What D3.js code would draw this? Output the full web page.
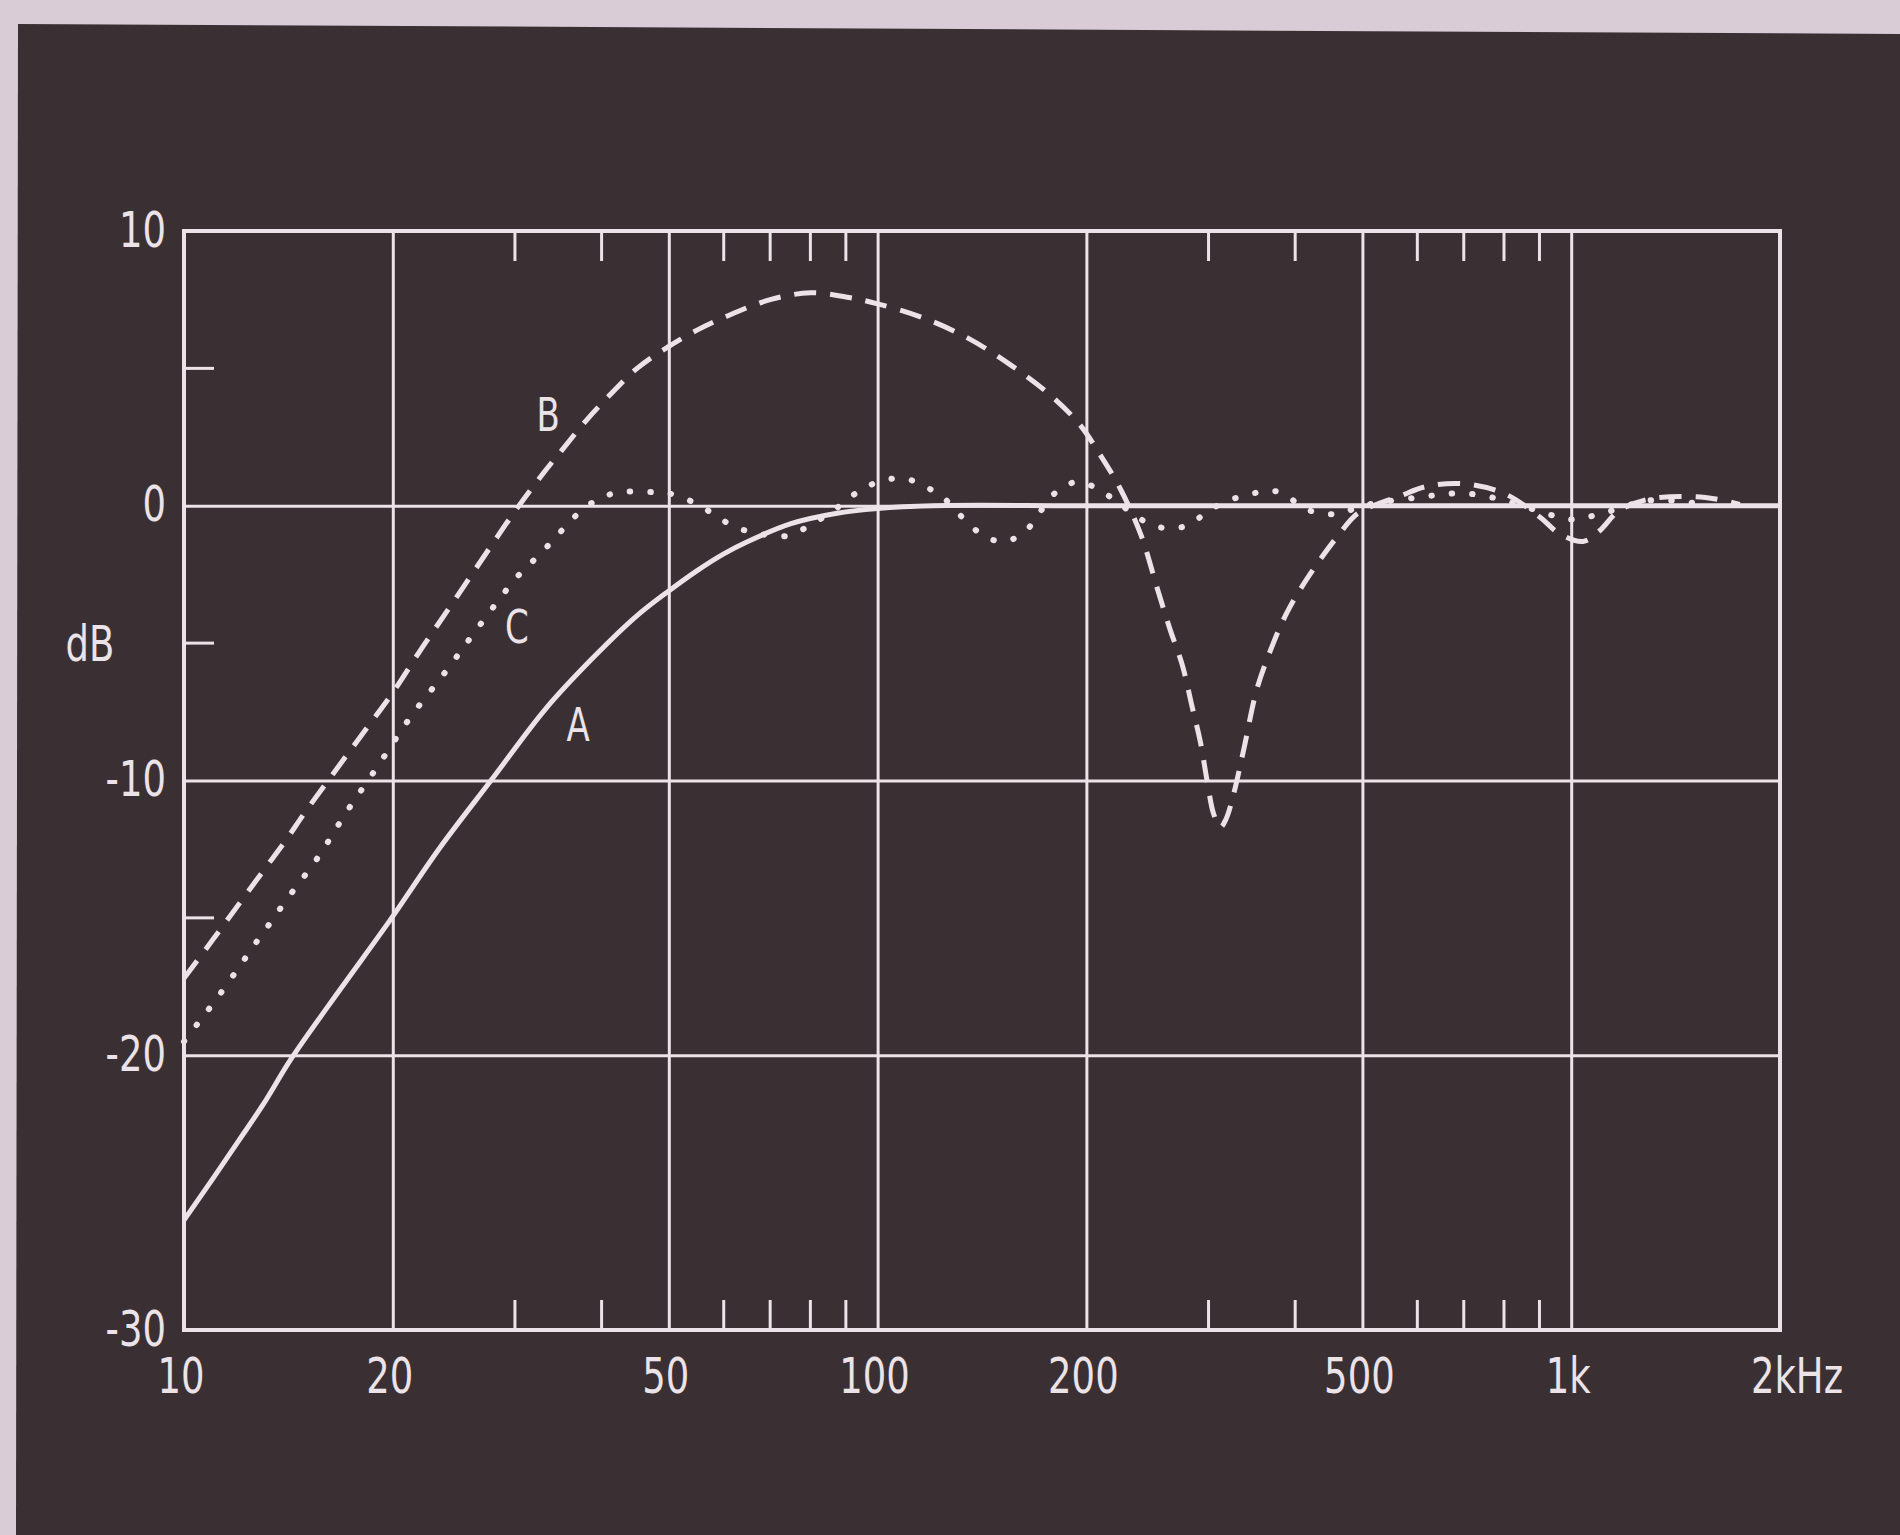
<!DOCTYPE html>
<html>
<head>
<meta charset="utf-8">
<script src="https://cdn.jsdelivr.net/npm/d3@7"></script>
<style>
  html, body { margin: 0; padding: 0; background: #d8ccd5; }
  svg { display: block; }
</style>
</head>
<body>
<svg id="chart" width="1900" height="1535"></svg>
<script>
// ---------- data ----------
const xMajorTicks = [10, 20, 50, 100, 200, 500, 1000, 2000];
const xTickLabels = ["10", "20", "50", "100", "200", "500", "1k", "2kHz"];
const xMinorTicks = [30, 40, 60, 70, 80, 90, 300, 400, 600, 700, 800, 900];
const yMajorTicks = [10, 0, -10, -20, -30];
const yTickLabels = ["10", "0", "-10", "-20", "-30"];
const yMinorTicks = [5, -5, -15];

// Curve A (solid)
const freqA = [10, 11, 12, 13, 14.3, 16.8, 19.8, 23.3, 27.9, 33.2, 39, 45, 50, 55, 60, 65, 75, 87, 100, 120, 200, 500, 1000, 2000];
const dbA   = [-26.0, -24.5, -23.1, -21.8, -20.1, -17.6, -15.1, -12.5, -9.9, -7.4, -5.5, -4.0, -3.1, -2.35, -1.75, -1.3, -0.65, -0.28, -0.1, 0, 0, 0, 0, 0];

// Curve B (dashed)
const freqB = [10, 11, 12, 13, 14, 15, 16.8, 18.4, 20, 22, 24, 26, 28, 30, 33, 35, 38, 41, 45, 50, 55, 60, 70, 80, 90, 100, 116, 135, 156, 176, 195, 210, 224, 240, 253, 264, 275, 284, 292, 299, 305, 312, 318, 326, 337, 352, 368, 389, 420, 464, 491, 530, 566, 618, 700, 800, 900, 960, 1040, 1100, 1170, 1300, 1560, 1750];
const dbB   = [-17.2, -15.8, -14.5, -13.3, -12.2, -11.1, -9.4, -8.05, -6.8, -5.2, -3.8, -2.5, -1.3, -0.2, 1.2, 2.0, 3.1, 4.0, 5.0, 5.8, 6.4, 6.85, 7.5, 7.75, 7.6, 7.35, 6.85, 6.1, 5.1, 4.1, 3.0, 1.8, 0.6, -1.1, -3.0, -4.5, -5.8, -7.3, -8.6, -10.1, -11.2, -11.7, -11.4, -10.5, -8.9, -6.7, -5.3, -3.9, -2.5, -1.0, -0.3, 0.1, 0.35, 0.7, 0.8, 0.45, -0.4, -1.0, -1.3, -0.9, -0.2, 0.25, 0.3, 0.05];

// Curve C (dotted)
const freqC = [10, 10.5, 11.1, 12.0, 12.7, 13.3, 14.0, 15.6, 17.1, 19.0, 21.2, 23.9, 26.6, 30.2, 32.3, 34.3, 36.4, 39.8, 43, 47, 50, 54, 58, 62, 67, 74, 80, 86.5, 93, 100, 109, 116, 124, 135, 143, 153, 164, 171, 180, 193, 207, 225, 244, 261, 281, 301, 330, 358, 380, 417, 460, 500, 600, 700, 800, 900, 1000, 1100, 1300, 1500];
const dbC   = [-19.5, -18.8, -18.0, -16.8, -15.9, -15.2, -14.4, -12.8, -11.2, -9.5, -7.7, -6.0, -4.4, -2.6, -1.86, -1.17, -0.45, 0.28, 0.5, 0.5, 0.45, 0.15, -0.3, -0.75, -1.0, -1.1, -0.7, -0.16, 0.45, 0.86, 1.0, 0.75, 0.32, -0.63, -1.13, -1.3, -0.88, -0.27, 0.45, 0.86, 0.64, 0.0, -0.6, -0.82, -0.7, -0.15, 0.3, 0.5, 0.5, -0.15, -0.3, 0.0, 0.3, 0.45, 0.2, -0.2, -0.5, -0.3, 0.2, 0.1];

const curveNames = ["A", "B", "C"];
const curveLabelFreq = [37.0, 33.5, 30.2];
const curveLabelDb = [-8.0, 3.3, -4.4];

// ---------- layout ----------
const W = 1900, H = 1535;
const pL = 184, pR = 1780, pT = 231, pB = 1330;
const ink = "#ebe3e8";
const bg = "#3a3034";

const svg = d3.select("#chart");

// paper background + dark board
svg.append("rect").attr("x", 0).attr("y", 0).attr("width", W).attr("height", H).attr("fill", "#d9ccd6");
svg.append("polygon")
  .attr("points", "18,24 1900,34 1900,1535 16,1535")
  .attr("fill", bg);

const x = d3.scaleLog().domain([10, 2000]).range([pL, pR]);
const y = d3.scaleLinear().domain([-30, 10]).range([pB, pT]);

const fontFam = "'DejaVu Sans', 'Liberation Sans', sans-serif";

// grid via axes
const gx = svg.append("g").attr("transform", `translate(0,${pB})`)
  .call(d3.axisBottom(x).tickValues(xMajorTicks).tickSize(-(pB - pT)).tickFormat((d, i) => xTickLabels[i]));
gx.select(".domain").remove();
gx.selectAll(".tick line").attr("stroke", ink).attr("stroke-width", 3);
gx.selectAll(".tick text").remove();

const gy = svg.append("g").attr("transform", `translate(${pL},0)`)
  .call(d3.axisLeft(y).tickValues(yMajorTicks).tickSize(-(pR - pL)).tickFormat((d, i) => yTickLabels[i]));
gy.select(".domain").remove();
gy.selectAll(".tick line").attr("stroke", ink).attr("stroke-width", 3);
gy.selectAll(".tick text").remove();

// frame
svg.append("rect").attr("x", pL).attr("y", pT).attr("width", pR - pL).attr("height", pB - pT)
  .attr("fill", "none").attr("stroke", ink).attr("stroke-width", 4);

// minor ticks
const tickLen = 30;
svg.append("g").selectAll("line").data(xMinorTicks).join("line")
  .attr("x1", d => x(d)).attr("x2", d => x(d)).attr("y1", pT).attr("y2", pT + tickLen)
  .attr("stroke", ink).attr("stroke-width", 3);
svg.append("g").selectAll("line").data(xMinorTicks).join("line")
  .attr("x1", d => x(d)).attr("x2", d => x(d)).attr("y1", pB).attr("y2", pB - tickLen)
  .attr("stroke", ink).attr("stroke-width", 3);
svg.append("g").selectAll("line").data(yMinorTicks).join("line")
  .attr("x1", pL).attr("x2", pL + tickLen).attr("y1", d => y(d)).attr("y2", d => y(d))
  .attr("stroke", ink).attr("stroke-width", 3);

// text helper (condensed technical lettering)
function label(g, txt, px, py, anchor, size) {
  const t = g.append("g").attr("transform", `translate(${px},${py}) scale(0.74,1)`);
  t.append("text").attr("x", 0).attr("y", 0)
    .attr("text-anchor", anchor).attr("dominant-baseline", "central")
    .attr("font-family", fontFam).attr("font-size", size).attr("font-weight", "normal")
    .attr("fill", ink).text(txt);
}

const labels = svg.append("g");
xMajorTicks.forEach((v, i) => {
  if (xTickLabels[i] === "2kHz") {
    label(labels, xTickLabels[i], x(v) + 17, pB + 45, "middle", 50);
  } else {
    label(labels, xTickLabels[i], x(v) - 3, pB + 45, "middle", 50);
  }
});
yMajorTicks.forEach((v, i) => {
  label(labels, yTickLabels[i], pL - 18, y(v) - 2, "end", 50);
});
label(labels, "dB", 90, y(-5), "middle", 50);

// curves
const smooth = d3.line().x(d => x(d[0])).y(d => y(d[1])).curve(d3.curveCatmullRom.alpha(0.5));
const ptsA = freqA.map((f, i) => [f, dbA[i]]);
const ptsB = freqB.map((f, i) => [f, dbB[i]]);
const ptsC = freqC.map((f, i) => [f, dbC[i]]);

svg.append("path").attr("d", smooth(ptsC)).attr("fill", "none").attr("stroke", ink)
  .attr("stroke-width", 6).attr("stroke-linecap", "round").attr("stroke-dasharray", "0.5 20");
svg.append("path").attr("d", smooth(ptsB)).attr("fill", "none").attr("stroke", ink)
  .attr("stroke-width", 5).attr("stroke-dasharray", "22 14");
svg.append("path").attr("d", smooth(ptsA)).attr("fill", "none").attr("stroke", ink)
  .attr("stroke-width", 5);

curveNames.forEach((n, i) => {
  label(labels, n, x(curveLabelFreq[i]), y(curveLabelDb[i]), "middle", 46);
});
</script>
</body>
</html>
